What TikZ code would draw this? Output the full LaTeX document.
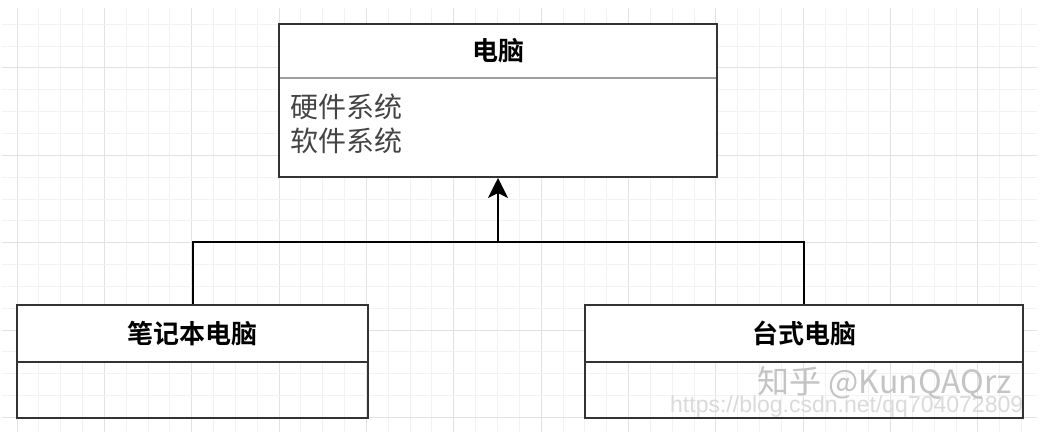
\documentclass[tikz,border=0pt]{standalone}
\usepackage{fontspec}
\newfontfamily\cjk{Noto Sans CJK SC}
\newfontfamily\cjkb{Noto Sans CJK SC Bold}
\newfontfamily\arial{Liberation Sans}
\usetikzlibrary{arrows.meta}
\definecolor{gridminor}{HTML}{F2F2F2}
\definecolor{gridmajor}{HTML}{E2E2E2}
\definecolor{boxline}{HTML}{333333}
\definecolor{attrtext}{HTML}{444444}
\definecolor{wmark}{HTML}{C4C4C4}
\definecolor{wmurl}{HTML}{DADADA}
\tikzset{
  classbox/.style={draw=boxline, line width=2pt, fill=white, inner sep=0pt},
  titlecomp/.style={draw=boxline, line width=2pt, fill=white, inner sep=0pt,
    font=\cjkb\fontsize{26}{30}\selectfont, text=black},
  bodycomp/.style={draw=boxline, line width=2pt, inner sep=0pt},
  classtitle/.style={font=\cjkb\fontsize{26}{30}\selectfont, text=black, inner sep=0pt},
  attrs/.style={font=\cjk\fontsize{28}{33.5}\selectfont, text=attrtext, inner sep=0pt, align=left, anchor=north west},
  graydiv/.style={draw=gray!75, line width=1.5pt},
  conn/.style={draw=black, line width=2pt},
  inherit/.style={conn, -{Stealth[length=20pt,width=20pt,inset=5pt]}},
}
\begin{document}
\begin{tikzpicture}[x=1pt,y=-1pt]
\useasboundingbox (0,0) rectangle (1040,436);
\fill[white] (0,0) rectangle (1040,436);
% grid
\foreach \k in {0,...,46}{
  \pgfmathsetmacro{\xx}{17+\k*21.84}
  \pgfmathtruncatemacro{\m}{mod(\k,4)}
  \ifnum\m=0 \draw[gridmajor, line width=1pt] (\xx,8) -- (\xx,432);
  \else \draw[gridminor, line width=1pt] (\xx,8) -- (\xx,432); \fi
}
\foreach \k in {0,...,18}{
  \pgfmathsetmacro{\yy}{24.3+\k*21.84}
  \pgfmathtruncatemacro{\m}{mod(\k,4)}
  \ifnum\m=2 \draw[gridmajor, line width=1pt] (2,\yy) -- (1037,\yy);
  \else \draw[gridminor, line width=1pt] (2,\yy) -- (1037,\yy); \fi
}
% top class
\node[classbox, minimum width=438pt, minimum height=153pt] (pc) at (498,100.5) {};
\node[classtitle] (pct) at (498,51) {电脑};
\draw[graydiv] (280,78) -- (716,78);
\node[attrs] (pca) at (290,94) {硬件系统\\软件系统};
% laptop
\node[titlecomp, minimum width=351pt, minimum height=57pt] (lap) at (192.5,333.5) {笔记本电脑};
\node[bodycomp, minimum width=351pt, minimum height=56pt] (lapb) at (192.5,390) {};
% desktop
\node[titlecomp, minimum width=438pt, minimum height=57pt] (desk) at (804,333.5) {台式电脑};
\node[bodycomp, minimum width=438pt, minimum height=56pt] (deskb) at (804,390) {};
% connectors
\coordinate (j) at (498,242);
\draw[conn] (lap.north) |- (j);
\draw[conn] (desk.north) |- (j);
\draw[inherit] (j) -- (pc.south);
% watermark
\node[font=\arial\fontsize{23}{23}\selectfont, text=wmurl, anchor=west, inner sep=0pt] (wmu) at (670,407) {https://blog.csdn.net/qq704072809};
\node[font=\cjk\fontsize{32}{32}\selectfont, text=wmark, anchor=east, inner sep=0pt] (wmz) at (1012,383) {知乎 @KunQAQrz};
\end{tikzpicture}
\end{document}
